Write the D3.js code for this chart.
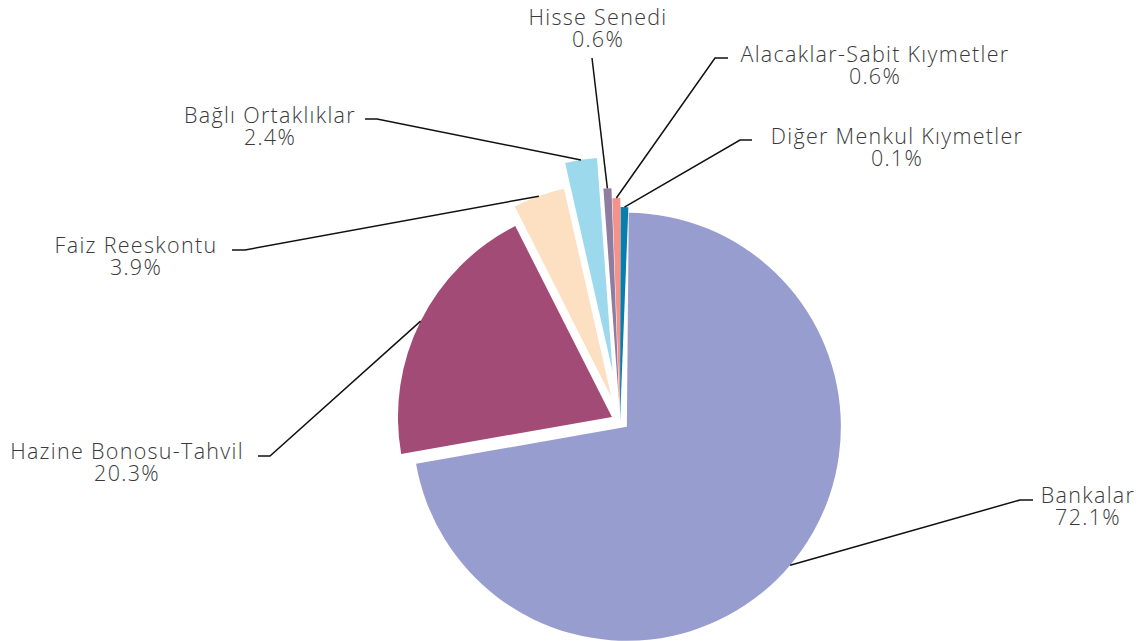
<!DOCTYPE html>
<html>
<meta charset='utf-8'>
<head>
<title>Dağılım</title>
<script src='https://d3js.org/d3.v7.min.js'></script>
<style>
body { margin: 0; background: #fff; }
.lbl { font-family: 'Open Sans', Lato, sans-serif; font-weight: 300; font-size: 21.5px; letter-spacing: 1.3px; fill: #3a3a3a; }
.leader { fill: none; stroke: #111; stroke-width: 1.5; }
</style>
</head>
<body>
<div id='chart'></div>
<script>
// data
var categories = ['Bankalar', 'Hazine Bonosu-Tahvil', 'Faiz Reeskontu', 'Bağlı Ortaklıklar',
                  'Hisse Senedi', 'Alacaklar-Sabit Kıymetler', 'Diğer Menkul Kıymetler'];
var shares = [72.1, 20.3, 3.9, 2.4, 0.6, 0.6, 0.1];
var colors = ['#979DCE', '#A34B77', '#FDDFC1', '#9DD9EC', '#8E7CA1', '#F4938A', '#0A7EAA'];

// how far each slice is pulled out of the pie
var explode = [9, 9, 25, 50, 19, 9, 0];

// label layout: text centre, baseline, elbow and end of leader
var labelPos = [
  {cx: 1088, y: 503, elbow: [1020, 500], end: [1033, 500]},
  {cx: 127,  y: 459, elbow: [270, 456],  end: [258, 456]},
  {cx: 136,  y: 253, elbow: [245, 250],  end: [232, 250]},
  {cx: 270,  y: 123, elbow: [377, 119],  end: [365, 119]},
  {cx: 598,  y: 25,  elbow: [592, 58],   end: [592, 58]},
  {cx: 875,  y: 62,  elbow: [715, 58],   end: [728, 58]},
  {cx: 897,  y: 144, elbow: [740, 140],  end: [752, 140]}
];

var width = 1142, height = 641;
var cx = 620, cy = 421, R = 214;
var startA = 0.5 * Math.PI / 180;
var minSweep = 2.1 * Math.PI / 180;

var data = categories.map(function(c, i) { return {name: c, value: shares[i], i: i}; });

var svg = d3.select('#chart').append('svg')
    .attr('width', width)
    .attr('height', height);

var pie = d3.pie()
    .sort(null)
    .value(function(d) { return d.value; })
    .startAngle(startA)
    .endAngle(startA + 2 * Math.PI);

var arcs = pie(data);
// very thin slices get a small visible width
arcs.forEach(function(a) {
  if (a.endAngle - a.startAngle < minSweep) a.endAngle = a.startAngle + minSweep;
  a.mid = (a.startAngle + a.endAngle) / 2;
  var e = explode[a.data.i];
  a.dx = e * Math.sin(a.mid);
  a.dy = -e * Math.cos(a.mid);
});

var arc = d3.arc().innerRadius(0).outerRadius(R);

var g = svg.append('g').attr('transform', 'translate(' + cx + ',' + cy + ')');

// draw small slices first, big one on top
g.selectAll('path.slice')
    .data(arcs.slice().reverse())
    .enter()
    .append('path')
    .attr('class', 'slice')
    .attr('transform', function(d) { return 'translate(' + d.dx + ',' + d.dy + ')'; })
    .attr('d', arc)
    .style('fill', function(d) { return colors[d.data.i]; });

// leader lines
var line = d3.line();
svg.selectAll('path.leader')
    .data(arcs)
    .enter()
    .append('path')
    .attr('class', 'leader')
    .attr('d', function(d) {
      var p = labelPos[d.data.i];
      var sx = cx + d.dx + R * Math.sin(d.mid);
      var sy = cy + d.dy - R * Math.cos(d.mid);
      return line([[sx, sy], p.elbow, p.end]);
    });

// labels: name line and percent line
var fmt = d3.format('.1f');
svg.selectAll('text.name')
    .data(arcs)
    .enter()
    .append('text')
    .attr('class', 'lbl name')
    .attr('text-anchor', 'middle')
    .attr('x', function(d) { return labelPos[d.data.i].cx; })
    .attr('y', function(d) { return labelPos[d.data.i].y; })
    .text(function(d) { return d.data.name; });

svg.selectAll('text.pct')
    .data(arcs)
    .enter()
    .append('text')
    .attr('class', 'lbl pct')
    .attr('text-anchor', 'middle')
    .attr('x', function(d) { return labelPos[d.data.i].cx; })
    .attr('y', function(d) { return labelPos[d.data.i].y + 22; })
    .text(function(d) { return fmt(d.data.value) + '%'; });
</script>
</body>
</html>
